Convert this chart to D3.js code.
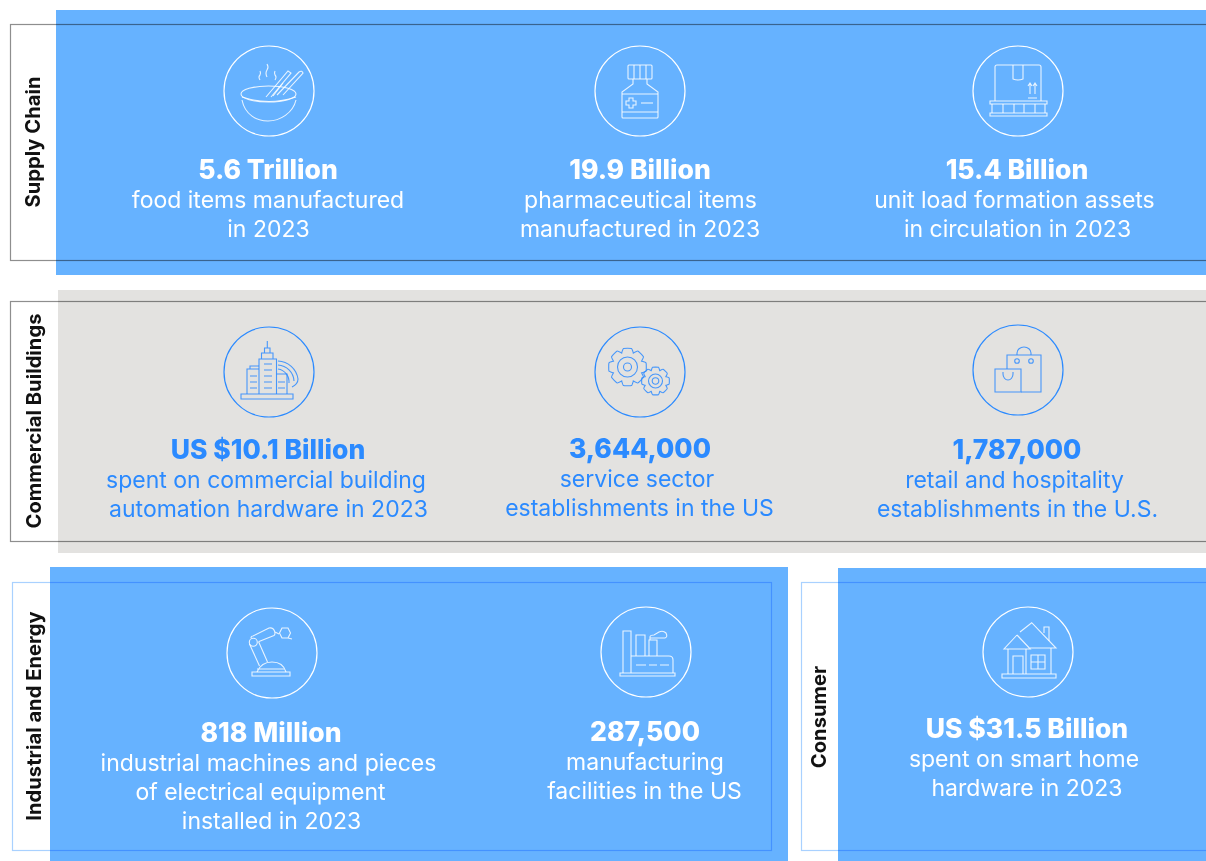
<!DOCTYPE html>
<html>
<head>
<meta charset="utf-8">
<script src="https://cdn.jsdelivr.net/npm/d3@7"></script>
<style>
  html, body { margin: 0; padding: 0; background: #fff; }
  svg { display: block; filter: blur(0.35px); }
  text { font-family: Inter, sans-serif; }
</style>
</head>
<body>
<svg id="chart" width="1206" height="861"></svg>
<script>
// sectors, one entry per panel
const sectorNames = ["Supply Chain", "Commercial Buildings", "Industrial and Energy", "Consumer"];

// headline figures and their captions, in reading order
const statValues = [
  "5.6 Trillion", "19.9 Billion", "15.4 Billion",
  "US $10.1 Billion", "3,644,000", "1,787,000",
  "818 Million", "287,500",
  "US $31.5 Billion"
];
const statCaptions = [
  ["food items manufactured", "in 2023"],
  ["pharmaceutical items", "manufactured in 2023"],
  ["unit load formation assets", "in circulation in 2023"],
  ["spent on commercial building", "automation hardware in 2023"],
  ["service sector", "establishments in the US"],
  ["retail and hospitality", "establishments in the U.S."],
  ["industrial machines and pieces", "of electrical equipment", "installed in 2023"],
  ["manufacturing", "facilities in the US"],
  ["spent on smart home", "hardware in 2023"]
];
const statSector = [0, 0, 0, 1, 1, 1, 2, 2, 3];
const statIcons = ["bowl", "bottle", "pallet", "tower", "gears", "bags", "robot", "factory", "house"];

const BLUE = "#66b2ff", GREY = "#e3e2e0", INK = "#2b8aff";

// panel geometry: b = coloured block, f = outlined frame
const panelLayout = [
  { b: [56, 10, 1206, 275], f: [10.5, 24.5, 1207, 260.5], frame: "#8e8e8e", labelX: 40, labelY: 142, fill: BLUE, ink: "#fff" },
  { b: [58, 290, 1206, 553], f: [10.5, 301.5, 1207, 541.5], frame: "#8e8e8e", labelX: 41, labelY: 421, fill: GREY, ink: INK },
  { b: [50, 567, 788, 861], f: [12.5, 582.5, 771.5, 850.5], frame: "#a9d1ff", labelX: 41, labelY: 716, fill: BLUE, ink: "#fff" },
  { b: [838, 568, 1206, 861], f: [801.5, 582.5, 1207, 850.5], frame: "#a9d1ff", labelX: 826, labelY: 717, fill: BLUE, ink: "#fff" }
];

// where each stat sits: icon centre, text baseline, nudge per caption line
const statLayout = [
  { x: 268, iconX: 269, iconY: 91, y: 179, dx: [0, 0.5] },
  { x: 640, iconX: 640, iconY: 91, y: 179, dx: [0.5, 0] },
  { x: 1017, iconX: 1018, iconY: 91, y: 179, dx: [-2.5, 0.5] },
  { x: 268, iconX: 269, iconY: 372, y: 459, dx: [-2, 0.5] },
  { x: 640, iconX: 640, iconY: 372, y: 458, dx: [-3, -0.5] },
  { x: 1017, iconX: 1018, iconY: 370, y: 459, dx: [-2.5, 0.5] },
  { x: 271, iconX: 272, iconY: 653, y: 742, dx: [-2.5, -10.5, 0.5] },
  { x: 645, iconX: 646, iconY: 652, y: 741, dx: [0, -0.5] },
  { x: 1027, iconX: 1028, iconY: 652, y: 738, dx: [-3, 0] }
];

// small line icons, drawn around 0,0 inside the r=45 ring
function gear(cx, cy, r, teeth) {
  const step = 2 * Math.PI / teeth;
  const pts = [];
  d3.range(teeth).forEach(i => {
    const a = i * step - Math.PI / 2;
    [[-.5, .8], [-.27, 1], [.27, 1], [.5, .8]].forEach(([o, k]) => {
      pts.push([cx + r * k * Math.cos(a + o * step), cy + r * k * Math.sin(a + o * step)]);
    });
  });
  return d3.line().curve(d3.curveCardinalClosed.tension(.6))(pts);
}
const iconPaths = {
  bowl: [
    "M-28,3 A27.5,8 0 1 1 27,3 A27.5,8 0 1 1 -28,3",
    "M-27,6 Q0,15 27,6",
    "M-27,9 C-24,24 -12,30 -1,30 C11,30 24,22 27,9",
    "M-3,6 L19,-20 L22,-18 L2,6",
    "M8,4 L30,-19 Q33,-21 34,-18 L14,4",
    "M4,5 L14,-8",
    "M-9,-11 Q-11,-14 -9,-16 Q-8,-18 -9,-20",
    "M-2,-14 Q-4,-18 -2,-21 Q0,-24 -2,-27",
    "M6,-11 Q8,-14 6,-16 Q5,-18 6,-20"
  ],
  bottle: [
    "M-11,-26 H11 Q12,-26 12,-25 V-13 Q12,-12 11,-12 H-11 Q-12,-12 -12,-13 V-25 Q-12,-26 -11,-26",
    "M-6,-26 V-12 M0,-26 V-12 M6,-26 V-12",
    "M-7,-12 V-7 L-18,1 V26 Q-18,27 -17,27 H17 Q18,27 18,26 V1 L7,-7 V-12",
    "M-18,3 H18 M-18,21 H18",
    "M-11,7 H-7 V10 H-4 V14 H-7 V17 H-11 V14 H-14 V10 H-11 Z",
    "M1,12 H13"
  ],
  pallet: [
    "M-21,-26 H21 Q23,-26 23,-24 V10 M-23,10 V-24 Q-23,-26 -21,-26",
    "M-5,-26 V-12 Q0,-10 5,-12 V-26",
    "M12,3 V-7 M10,-5 L12,-8 L14,-5 M17,3 V-7 M15,-5 L17,-8 L19,-5 M10,7 H19",
    "M-28,10 H29 V13 H-28 Z M-28,22 H29 V25 H-28 Z",
    "M-26,13 V22 M-15,13 V22 M-4,13 V22 M6,13 V22 M17,13 V22 M27,13 V22"
  ],
  tower: [
    "M-28,22 H24 V27 H-28 Z",
    "M-10,22 V-13 H7.5 V22 M-7.5,-13 V-19 H4 V-13 M-4.5,-19 V-24 H1 V-19 M-1.7,-24 V-31",
    "M-10,-3 H-22 V22 M-19,-3 V-6 H-10 M7.5,2 H18 V22",
    "M-5,-8 H3 M-5,-2 H3 M-5,4 H3 M-5,10 H3 M-5,16 H3",
    "M-19,4 H-12 M-19,10 H-12 M-19,16 H-12 M9,10 H16 M9,16 H16",
    "M9,-3 A13,13 0 0 1 20,11 M9,-7 A17,17 0 0 1 25,9 M9,-11 A21,21 0 0 1 29,7 Q29,12 23,15"
  ],
  gears: [
    gear(-12.5, -5, 19, 8), "M-12.5,-15 A10,10 0 1 1 -12.5,5 A10,10 0 1 1 -12.5,-15", "M-12.5,-9 A4,4 0 1 1 -12.5,-1 A4,4 0 1 1 -12.5,-9",
    gear(15.5, 9, 14, 8), "M15.5,2 A7,7 0 1 1 15.5,16 A7,7 0 1 1 15.5,2", "M15.5,5.7 A3.3,3.3 0 1 1 15.5,12.3 A3.3,3.3 0 1 1 15.5,5.7"
  ],
  bags: [
    "M-11,-1 V-15 H23 V22 H3",
    "M-23,-1 H3 V22 H-23 Z",
    "M-1,-15 V-17 A7,6 0 0 1 13,-17 V-15",
    "M1.3,-9 A2.3,2.3 0 1 1 -3.3,-9 A2.3,2.3 0 1 1 1.3,-9 M15.3,-9 A2.3,2.3 0 1 1 10.7,-9 A2.3,2.3 0 1 1 15.3,-9",
    "M-15,2 V4 A5,6 0 0 0 -5,4 V2"
  ],
  robot: [
    "M-20,19 H18 V23 H-20 Z",
    "M-15,19 C-12,12 -6,9 0,9 C6,9 12,12 14,19 M-15,16 H13",
    "M-22.5,-9 L-12.5,13 M-13.5,-11.5 L-4.5,9",
    "M-14.7,-10.7 A4,4 0 1 1 -22.7,-10.7 A4,4 0 1 1 -14.7,-10.7",
    "M-21,-15 Q-21,-17 -19,-17 L-3,-25 Q2,-26 3,-20 Q3,-18 2,-17.5 L-13,-11.5",
    "M3,-21 L7,-19 M18.5,-20 L16,-15 H10 L7.5,-20 L10,-25 H16 Z M16,-15 L20,-14"
  ],
  factory: [
    "M-26,21 H29 V24 H-26 Z",
    "M-23,21 V-21 H-15 V21",
    "M-15,4 H23 Q27,4 27,8 V21",
    "M-10,4 V-17 H-1 V4 M3,4 V-12 H11 V4",
    "M4,-12 V-15 Q4,-17 8,-17 L13,-20 Q17,-22 20,-19 Q22,-15 19,-14 H4",
    "M-10,13 H0 M3,13 H11 M14,13 H23"
  ],
  house: [
    "M-26,22 H28 V26 H-26 Z",
    "M-11,-17 L-24,-3 H2.3 L-11,-17",
    "M-8,-20 L3.7,-29.3 L28,-4 H2",
    "M16,-19 V-25 H21 V-11",
    "M-20,-3 V22 M-2,-3 V22 M23,-4 V22",
    "M-15,22 V4 H-5 V22",
    "M3,3 H17 V17 H3 Z M10,3 V17 M3,10 H17"
  ]
};

const svg = d3.select("#chart");

const panels = svg.selectAll("g.panel")
  .data(panelLayout)
  .enter().append("g")
    .attr("class", "panel");

panels.append("rect")
  .attr("x", d => d.b[0])
  .attr("y", d => d.b[1])
  .attr("width", d => d.b[2] - d.b[0])
  .attr("height", d => d.b[3] - d.b[1])
  .attr("fill", d => d.fill);

// multiply so the frame reads darker where it crosses the colour block
panels.append("rect")
  .attr("x", d => d.f[0])
  .attr("y", d => d.f[1])
  .attr("width", d => d.f[2] - d.f[0])
  .attr("height", d => d.f[3] - d.f[1])
  .attr("fill", "none")
  .attr("stroke", d => d.frame)
  .attr("stroke-width", 1.2)
  .style("mix-blend-mode", "multiply");

panels.append("text")
  .attr("transform", d => `translate(${d.labelX},${d.labelY}) rotate(-90)`)
  .attr("text-anchor", "middle")
  .attr("font-size", 20.2)
  .attr("font-weight", 700)
  .attr("fill", "#111")
  .text((d, i) => sectorNames[i]);

const stats = svg.selectAll("g.stat")
  .data(statValues.map((value, i) => ({
    value,
    lines: statCaptions[i],
    icon: statIcons[i],
    pos: statLayout[i],
    ink: panelLayout[statSector[i]].ink
  })))
  .enter().append("g")
    .attr("class", "stat");

const icons = stats.append("g")
  .attr("transform", d => `translate(${d.pos.iconX},${d.pos.iconY})`)
  .attr("fill", "none")
  .attr("stroke", d => d.ink)
  .attr("stroke-width", 1.1);

icons.append("circle").attr("r", 45).attr("stroke-width", 1.2);
icons.selectAll("path")
  .data(d => iconPaths[d.icon])
  .enter().append("path")
    .attr("d", d => d)
    .attr("stroke-opacity", 0.85);

stats.append("text")
  .attr("x", d => d.pos.x)
  .attr("y", d => d.pos.y)
  .attr("text-anchor", "middle")
  .attr("font-size", 26.5)
  .attr("font-weight", 800)
  .attr("fill", d => d.ink)
  .text(d => d.value);

stats.selectAll("text.caption")
  .data(d => d.lines.map((line, i) => ({ line, x: d.pos.x + d.pos.dx[i], y: d.pos.y + 29 * (i + 1), ink: d.ink })))
  .enter().append("text")
    .attr("class", "caption")
    .attr("x", d => d.x)
    .attr("y", d => d.y)
    .attr("text-anchor", "middle")
    .attr("font-size", 23)
    .attr("font-weight", 400)
    .attr("fill", d => d.ink)
    .text(d => d.line);
</script>
</body>
</html>
